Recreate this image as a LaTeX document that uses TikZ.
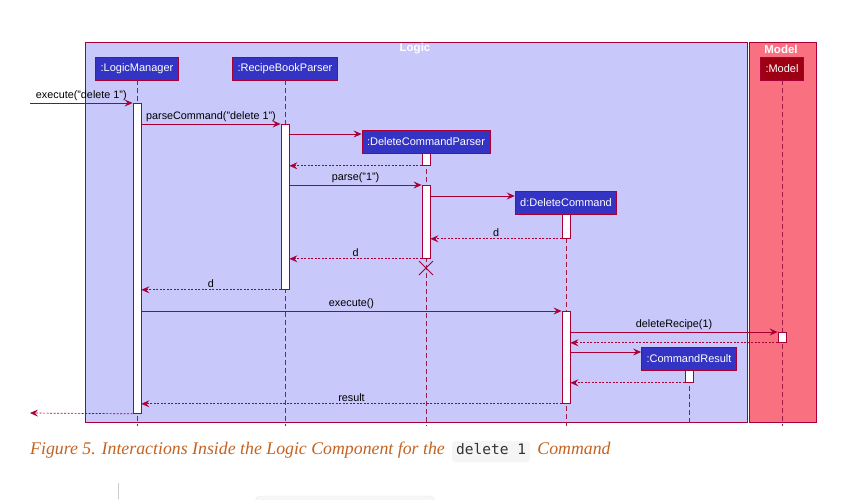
\documentclass[tikz,border=0pt]{standalone}
\usepackage{fontspec}
\setmainfont{Liberation Sans}
\newfontfamily\capfont{Liberation Serif}
\newfontfamily\codefont{DejaVu Sans Mono}
\usepackage{tikz}
\usetikzlibrary{arrows.meta}
\usetikzlibrary{positioning}
\definecolor{umlred}{HTML}{A80036}
\definecolor{logicblue}{HTML}{3333C4}
\definecolor{logicbg}{HTML}{C8C8FA}
\definecolor{modelred}{HTML}{9D0012}
\definecolor{modelbg}{HTML}{F97181}
\definecolor{capcolor}{RGB}{196,98,32}

\begin{document}
\begin{tikzpicture}[line join=miter,>={Stealth[length=8pt,width=7pt,inset=3pt]},x=1pt,y=-1pt,
  actor/.style={draw=umlred,fill=logicblue,text=white,font=\fontsize{11}{13}\selectfont,minimum height=23,inner xsep=5pt,line width=0.8pt},
  bar/.style={draw=umlred,fill=white,minimum width=8,inner sep=0pt,line width=0.8pt,anchor=north},
  lifeline/.style={draw=umlred!80!gray,line width=0.7pt,dash pattern=on 5pt off 3pt},
  call/.style={->,draw=umlred,line width=0.8pt},
  reply/.style={->,draw=umlred,line width=0.7pt,dash pattern=on 2pt off 1.5pt},
  lbl/.style={font=\fontsize{10.8}{12}\selectfont,text=black,inner sep=1.5pt,above},
  boxtitle/.style={font=\bfseries\fontsize{11.5}{13}\selectfont,text=white},
  capstyle/.style={font=\capfont\itshape\fontsize{17.8}{20}\selectfont,text=capcolor,inner sep=0pt},
  codestyle/.style={font=\codefont\fontsize{14.5}{16}\selectfont,text=black!80,fill=black!4,rounded corners=3pt,inner xsep=4pt,inner ysep=0pt,text height=13pt,text depth=8pt}]
\useasboundingbox (0,0) rectangle (867,499);
\draw[umlred,fill=logicbg,line width=0.8pt] (85,42) rectangle (747,422);
\draw[umlred,fill=modelbg,line width=0.8pt] (749,42) rectangle (816,422);
\node[boxtitle] (logic) at (415,49) {Logic};
\node[boxtitle] (model) at (781,49) {Model};
\node[actor] (lm) at (137,68.5) {:LogicManager};
\node[actor] (rbp) at (285,68.5) {:RecipeBookParser};
\node[actor] (dcp) at (426,141.5) {:DeleteCommandParser};
\node[actor] (dc) at (566,202.5) {d:DeleteCommand};
\node[actor] (cr) at (689,358.5) {:CommandResult};
\node[actor,fill=modelred] (mdl) at (782,68.5) {:Model};
\foreach \p in {lm,rbp,dcp,dc,cr,mdl}
  \draw[lifeline] (\p.south) -- (\p.south |- 0,426);
\node[bar,minimum height=310] (lmA) at (137,103) {};
\node[bar,minimum height=165] (rbpA) at (285,124) {};
\node[bar,minimum height=12] (dcpA) at (426,153) {};
\node[bar,minimum height=73] (dcpB) at (426,185) {};
\node[bar,minimum height=24] (dcA) at (566,214) {};
\node[bar,minimum height=92] (dcB) at (566,311) {};
\node[bar,minimum height=10] (mdlA) at (782,332) {};
\node[bar,minimum height=12] (crA) at (689,370) {};
\coordinate (in) at (30,103);
\coordinate (out) at (30,413);
\coordinate (kill) at (426,268);
\draw[call] (in) -- node[lbl]{execute("delete 1")} (lmA.north west);
\draw[call] (lmA.east |- rbpA.north) -- node[lbl]{parseCommand("delete 1")} (rbpA.north west);
\draw[call] (rbpA.east |- 0,134) -- (dcp.west |- 0,134);
\draw[reply] (dcpA.south west) -- (rbpA.east |- dcpA.south);
\draw[call] (rbpA.east |- dcpB.north) -- node[lbl]{parse("1")} (dcpB.north west);
\draw[call] (dcpB.east |- 0,196) -- (dc.west |- 0,196);
\draw[reply] (dcA.south west) -- node[lbl]{d} (dcpB.east |- dcA.south);
\draw[reply] (dcpB.south west) -- node[lbl]{d} (rbpA.east |- dcpB.south);
\draw[umlred,line width=0.9pt] (kill) ++(-7,-7) -- ++(14,14) (kill) ++(-7,7) -- ++(14,-14);
\draw[reply] (rbpA.south west) -- node[lbl]{d} (lmA.east |- rbpA.south);
\draw[call] (lmA.east |- dcB.north) -- node[lbl]{execute()} (dcB.north west);
\draw[call] (dcB.east |- mdlA.north) -- node[lbl]{deleteRecipe(1)} (mdlA.north west);
\draw[reply] (mdlA.south west) -- (dcB.east |- mdlA.south);
\draw[call] (dcB.east |- 0,352) -- (cr.west |- 0,352);
\draw[reply] (crA.south west) -- (dcB.east |- crA.south);
\draw[reply] (dcB.south west) -- node[lbl]{result} (lmA.east |- dcB.south);
\draw[reply] (lmA.south west) -- (out);
\node[capstyle,anchor=base west] (cap) at (30,454) {Figure 5. Interactions Inside the Logic Component for the};
\node[codestyle,base right=7pt of cap] (cmd) {delete 1};
\node[capstyle,base right=7pt of cmd] (cap2) {Command};
\draw[black!20] (118,483) -- (118,499);
\draw[black!8,fill=black!3,rounded corners=5pt] (255,496) rectangle (435,510);
\end{tikzpicture}
\end{document}
